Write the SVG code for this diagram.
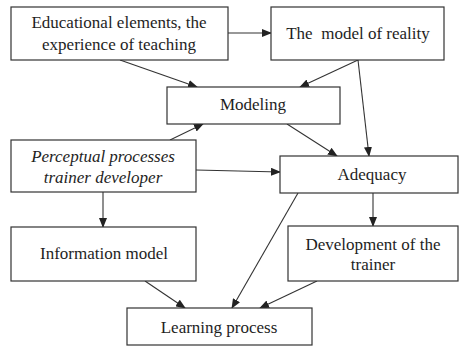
<svg xmlns="http://www.w3.org/2000/svg" width="459" height="348" viewBox="0 0 459 348">
  <style>
    .box { fill: #ffffff; stroke: #333333; stroke-width: 1.2; }
    .lbl { font-size: 17px; fill: #1e1e1e; text-anchor: middle; }
    .it { font-style: italic; }
    .edge { stroke: #333333; stroke-width: 1.1; fill: none; marker-end: url(#arrow); }
  </style>
  <defs>
    <marker id="arrow" markerWidth="10" markerHeight="8" refX="9" refY="4" orient="auto" markerUnits="userSpaceOnUse">
      <path d="M0,0 L10,4 L0,8 Z" fill="#222222"/>
    </marker>
  </defs>
  <rect width="459" height="348" fill="#ffffff"/>

  <g id="connectors">
    <line class="edge" x1="228" y1="33" x2="271" y2="33"/>
    <line class="edge" x1="120" y1="60" x2="197" y2="87"/>
    <line class="edge" x1="358" y1="60" x2="300" y2="87"/>
    <line class="edge" x1="358" y1="60" x2="369" y2="156"/>
    <line class="edge" x1="287" y1="124" x2="337" y2="156"/>
    <line class="edge" x1="170" y1="140" x2="203" y2="124"/>
    <line class="edge" x1="196" y1="170" x2="280" y2="172"/>
    <line class="edge" x1="103" y1="192" x2="103" y2="227"/>
    <line class="edge" x1="373" y1="193" x2="373" y2="226"/>
    <line class="edge" x1="298" y1="193" x2="232" y2="308"/>
    <line class="edge" x1="145" y1="281" x2="185" y2="308"/>
    <line class="edge" x1="317" y1="281" x2="260" y2="308"/>
  </g>

  <g font-family="Liberation Serif, serif">
    <g id="educational">
      <rect class="box" x="11" y="7" width="217" height="53"/>
      <text class="lbl" x="119" y="28" font-family="Liberation Serif">Educational elements, the</text>
      <text class="lbl" x="119" y="50" font-family="Liberation Serif">experience of teaching</text>
    </g>
    <g id="reality">
      <rect class="box" x="271" y="7" width="173" height="53"/>
      <text class="lbl" x="358" y="39" font-family="Liberation Serif" xml:space="preserve">The  model of reality</text>
    </g>
    <g id="modeling">
      <rect class="box" x="167" y="87" width="173" height="37"/>
      <text class="lbl" x="253" y="110" font-family="Liberation Serif">Modeling</text>
    </g>
    <g id="perceptual">
      <rect class="box" x="11" y="140" width="185" height="52"/>
      <text class="lbl it" x="103" y="162" font-family="Liberation Serif">Perceptual processes</text>
      <text class="lbl it" x="103" y="183" font-family="Liberation Serif">trainer developer</text>
    </g>
    <g id="adequacy">
      <rect class="box" x="280" y="156" width="178" height="37"/>
      <text class="lbl" x="372" y="180" font-family="Liberation Serif">Adequacy</text>
    </g>
    <g id="information">
      <rect class="box" x="11" y="227" width="185" height="54"/>
      <text class="lbl" x="104" y="259" font-family="Liberation Serif">Information model</text>
    </g>
    <g id="development">
      <rect class="box" x="288" y="226" width="170" height="55"/>
      <text class="lbl" x="373" y="250" font-family="Liberation Serif">Development of the</text>
      <text class="lbl" x="373" y="270" font-family="Liberation Serif">trainer</text>
    </g>
    <g id="learning">
      <rect class="box" x="127" y="308" width="185" height="37"/>
      <text class="lbl" x="219" y="333" font-family="Liberation Serif">Learning process</text>
    </g>
  </g>
</svg>
